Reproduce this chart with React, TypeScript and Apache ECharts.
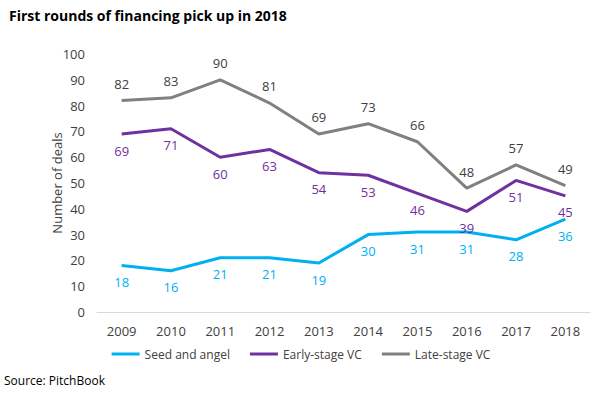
import React, { useEffect, useRef } from "react";
import * as echarts from "echarts";

const years = ["2009", "2010", "2011", "2012", "2013", "2014", "2015", "2016", "2017", "2018"];
const seedAngel = [18, 16, 21, 21, 19, 30, 31, 31, 28, 36];
const earlyStage = [69, 71, 60, 63, 54, 53, 46, 39, 51, 45];
const lateStage = [82, 83, 90, 81, 69, 73, 66, 48, 57, 49];

const FONT = "'Open Sans', 'Noto Sans', sans-serif";

export default function App() {
  const ref = useRef<HTMLDivElement>(null);
  useEffect(() => {
    if (!ref.current) return;
    const chart = echarts.init(ref.current, undefined, { renderer: "svg" });
    const mk = (name: string, data: number[], color: string, labelColor: string, pos: string) => ({
      name,
      type: "line",
      data,
      symbol: "circle",
      symbolSize: 0.1,
      showSymbol: true,
      lineStyle: { color, width: 3 },
      itemStyle: { color },
      label: {
        show: true,
        position: pos,
        distance: 10,
        color: labelColor,
        fontFamily: FONT,
        fontSize: 13,
      },
    });
    chart.setOption({
      animation: false,
      backgroundColor: "#ffffff",
      title: {
        text: "First rounds of financing pick up in 2018",
        left: 4,
        top: 3,
        textStyle: { fontFamily: FONT, fontSize: 14, fontWeight: "bold", color: "#000" },
      },
      graphic: [
        {
          type: "text",
          left: 4,
          top: 374,
          style: { text: "Source: PitchBook", font: `12px ${FONT}`, fill: "#000" },
        },
      ],
      legend: {
        bottom: 30,
        left: "center",
        itemWidth: 28,
        itemHeight: 3,
        itemGap: 20,
        icon: "rect",
        textStyle: { fontFamily: FONT, fontSize: 12, color: "#404040" },
        data: ["Seed and angel", "Early-stage VC", "Late-stage VC"],
      },
      grid: { left: 97, right: 12, top: 54, bottom: 83 },
      xAxis: {
        type: "category",
        data: years,
        boundaryGap: true,
        axisLine: { lineStyle: { color: "#d9d9d9", width: 1 } },
        axisTick: { show: false },
        axisLabel: { color: "#404040", fontFamily: FONT, fontSize: 13, margin: 12 },
      },
      yAxis: {
        type: "value",
        min: 0,
        max: 100,
        interval: 10,
        name: "Number of deals",
        nameLocation: "middle",
        nameGap: 34,
        nameMoveOverlap: false,
        nameTextStyle: { color: "#404040", fontFamily: FONT, fontSize: 13 },
        splitLine: { show: false },
        axisLine: { show: false },
        axisTick: { show: false },
        axisLabel: { color: "#404040", fontFamily: FONT, fontSize: 13, margin: 12 },
      },
      series: [
        mk("Seed and angel", seedAngel, "#00b0f0", "#00b0f0", "bottom"),
        mk("Early-stage VC", earlyStage, "#7030a0", "#7030a0", "bottom"),
        mk("Late-stage VC", lateStage, "#808080", "#404040", "top"),
      ],
    });
    return () => chart.dispose();
  }, []);
  return <div ref={ref} style={{ width: 602, height: 395, position: "absolute", left: 0, top: 0 }} />;
}
